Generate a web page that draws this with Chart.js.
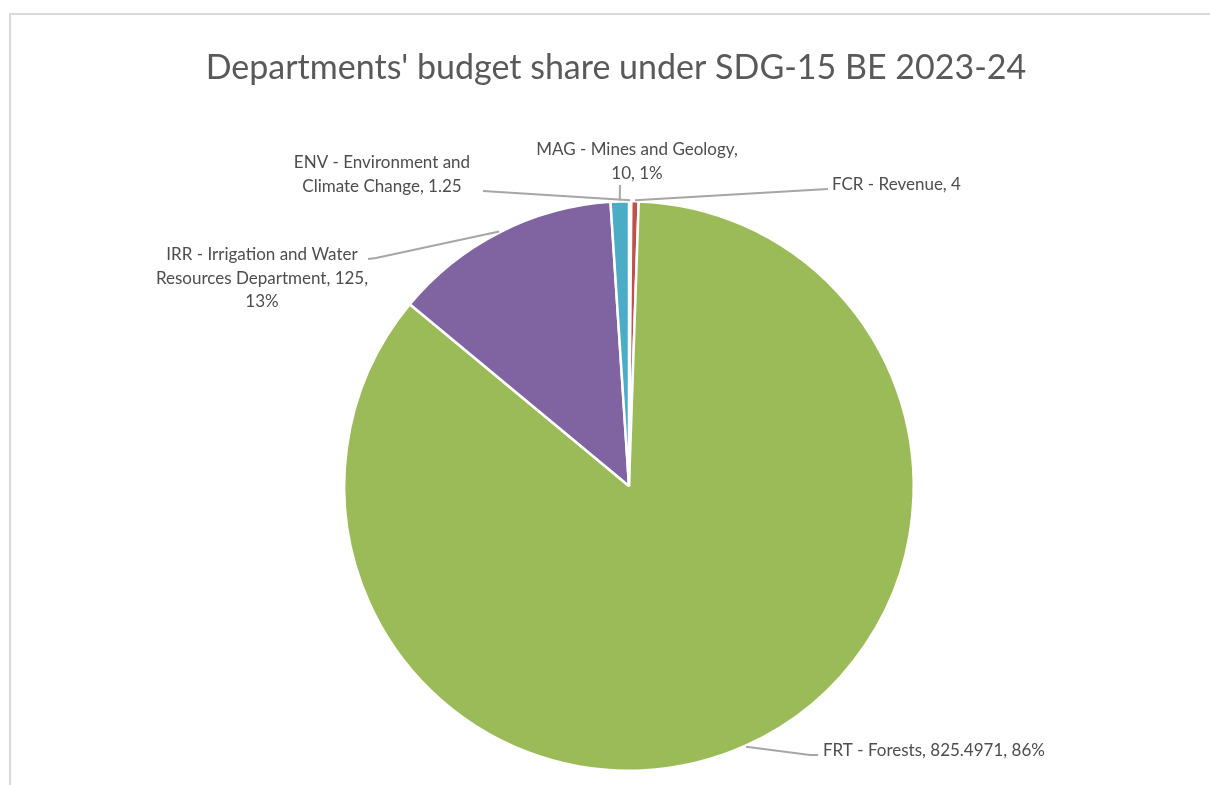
<!DOCTYPE html>
<html>
<head>
<meta charset="utf-8">
<script src="https://cdn.jsdelivr.net/npm/chart.js@4/dist/chart.umd.min.js"></script>
<style>
  html, body { margin: 0; padding: 0; background: #fff; }
  #wrap { position: relative; width: 1210px; height: 785px; }
</style>
</head>
<body>
<div id="wrap"><canvas id="chart" width="1210" height="785"></canvas></div>
<script>
// data, in the sheet's (alphabetical) order
var codes = ['ENV', 'FCR', 'FRT', 'IRR', 'MAG'];
var departments = ['Environment and Climate Change', 'Revenue', 'Forests', 'Irrigation and Water Resources Department', 'Mines and Geology'];
var budget = [1.25, 4, 825.4971, 125, 10];
var sliceColors = ['#4F81BD', '#C0504D', '#9BBB59', '#8064A2', '#4BACC6'];

var titleText = "Departments' budget share under SDG-15 BE 2023-24";

// where each data label sits and how its leader line bends
var labelLayout = [
    { lines: ['ENV - Environment and', 'Climate Change, 1.25'], x: 382, y: 163, align: 'center', path: [[483, 191]] },
    { lines: ['FCR - Revenue, 4'], x: 832, y: 185, align: 'left', path: [[828, 189]] },
    { lines: ['FRT - Forests, 825.4971, 86%'], x: 823, y: 751, align: 'left', path: [[810, 755], [818, 755]] },
    { lines: ['IRR - Irrigation and Water', 'Resources Department, 125,', '13%'], x: 262, y: 255, align: 'center', path: [[376, 258], [368, 259]] },
    { lines: ['MAG - Mines and Geology,', '10, 1%'], x: 637, y: 150, align: 'center', path: [[620, 185]] }
];

var labelPlugin = {
    id: 'excelLabels',
    beforeDraw: function(chart) {
        var ctx = chart.ctx;
        ctx.save();
        ctx.strokeStyle = '#d9d9d9';
        ctx.lineWidth = 2;
        ctx.strokeRect(10, 14, 1300, 900);
        ctx.restore();
    },
    afterDraw: function(chart) {
        var ctx = chart.ctx;
        var arcs = chart.getDatasetMeta(0).data;
        ctx.save();

        ctx.fillStyle = '#595959';
        ctx.font = '34px Lato';
        ctx.textAlign = 'center';
        ctx.textBaseline = 'middle';
        ctx.fillText(titleText, 616, 68);

        // leader lines from the middle of each slice's rim
        ctx.strokeStyle = '#A6A6A6';
        ctx.lineWidth = 2;
        for (var i = 0; i < arcs.length; i++) {
            var a = arcs[i].getProps(['x', 'y', 'startAngle', 'endAngle', 'outerRadius'], true);
            var mid = (a.startAngle + a.endAngle) / 2;
            var r = a.outerRadius + 1;
            var px = a.x + Math.cos(mid) * r;
            var py = a.y + Math.sin(mid) * r;
            var p = labelLayout[i].path;
            ctx.beginPath();
            ctx.moveTo(px, py);
            for (var j = 0; j < p.length; j++) ctx.lineTo(p[j][0], p[j][1]);
            ctx.stroke();
        }

        ctx.font = '17px Lato';
        ctx.fillStyle = '#4d4d4d';
        for (var k = 0; k < labelLayout.length; k++) {
            var L = labelLayout[k];
            ctx.textAlign = L.align;
            for (var n = 0; n < L.lines.length; n++) {
                ctx.fillText(L.lines[n], L.x, L.y + n * 23.5);
            }
        }
        ctx.restore();
    }
};

new Chart(document.getElementById('chart'), {
    type: 'pie',
    data: {
        labels: codes.map(function(c, i) { return c + ' - ' + departments[i]; }),
        datasets: [{
            data: budget,
            backgroundColor: sliceColors,
            borderColor: '#ffffff',
            borderWidth: 2.5
        }]
    },
    options: {
        responsive: false,
        animation: false,
        layout: { padding: { left: 48, right: 0, top: 200, bottom: 13 } },
        plugins: {
            legend: { display: false },
            title: { display: false },
            tooltip: { enabled: false }
        }
    },
    plugins: [labelPlugin]
});
</script>
</body>
</html>
